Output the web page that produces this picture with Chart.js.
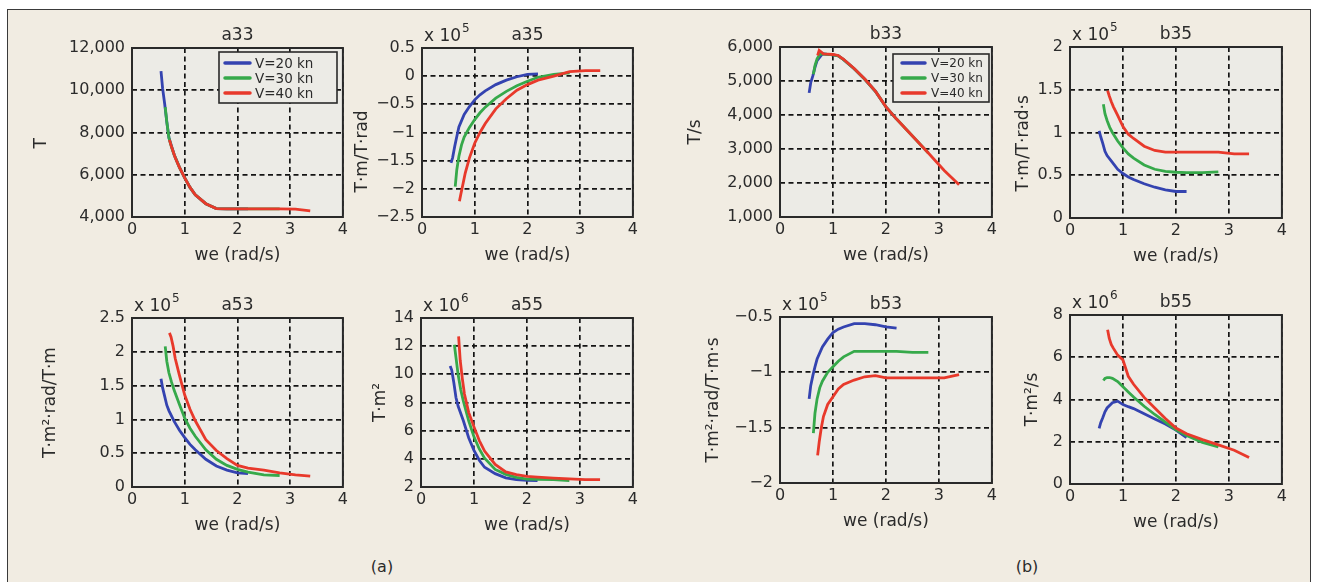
<!DOCTYPE html>
<html>
<head>
<meta charset="utf-8">
<script src="https://cdn.jsdelivr.net/npm/chart.js@4.4.1/dist/chart.umd.min.js"></script>
<style>
  html, body { margin: 0; padding: 0; background: #fff; }
  #fig { position: relative; width: 1317px; height: 582px; overflow: hidden; }
  #frame {
    position: absolute; left: 7px; top: 9px; width: 1304px; height: 600px;
    box-sizing: border-box; border: 1.5px solid #3a3a3a; background: #f1ece2;
  }
  .cv { position: absolute; }
  .tag {
    position: absolute; transform: translate(-50%, -50%);
    font: 16px 'DejaVu Sans', sans-serif; color: #2b2b2b;
  }
</style>
</head>
<body>
<div id="fig">
  <div id="frame"></div>
  <div class="tag" style="left:382px; top:566px">(a)</div>
  <div class="tag" style="left:1027px; top:566px">(b)</div>
</div>
<script>
// ── Encounter frequency (rad/s), one grid per ship speed ────────────
const we20 = [0.55, 0.58, 0.62, 0.66, 0.7, 0.8, 0.9, 1.0, 1.1, 1.2, 1.4, 1.6, 1.8, 2.0, 2.2];
const we30 = [0.63, 0.66, 0.7, 0.75, 0.8, 0.9, 1.0, 1.1, 1.2, 1.4, 1.6, 1.8, 2.0, 2.2, 2.5, 2.8];
const we40 = [0.71, 0.74, 0.78, 0.82, 0.9, 1.0, 1.1, 1.2, 1.4, 1.6, 1.8, 2.0, 2.2, 2.5, 2.8, 3.1, 3.38];
const speedLabels = ['V=20 kn', 'V=30 kn', 'V=40 kn'];
const weTicks = [0, 1, 2, 3, 4];

// ── (a) added mass ──────────────────────────────────────────────────
const a33_20 = [10900, 10100, 9350, 8500, 7750, 6950, 6350, 5850, 5400, 5050, 4630, 4400, 4380, 4380, 4380];
const a33_30 = [9200, 8500, 7750, 7300, 6950, 6350, 5850, 5400, 5050, 4630, 4400, 4380, 4380, 4380, 4380, 4380];
const a33_40 = [7650, 7400, 7100, 6800, 6350, 5850, 5400, 5050, 4630, 4400, 4380, 4380, 4380, 4380, 4380, 4370, 4290];

const a35_20 = [-1.54, -1.45, -1.25, -1.07, -0.9, -0.68, -0.54, -0.42, -0.33, -0.26, -0.15, -0.07, -0.01, 0.03, 0.04];
const a35_30 = [-1.96, -1.66, -1.42, -1.22, -1.08, -0.91, -0.77, -0.65, -0.55, -0.39, -0.27, -0.17, -0.09, -0.02, 0.03, 0.06];
const a35_40 = [-2.22, -2.08, -1.9, -1.72, -1.45, -1.19, -1.0, -0.84, -0.58, -0.4, -0.25, -0.15, -0.07, 0.0, 0.08, 0.1, 0.1];

const a53_20 = [1.6, 1.47, 1.34, 1.21, 1.13, 0.97, 0.84, 0.73, 0.63, 0.55, 0.41, 0.31, 0.25, 0.21, 0.2];
const a53_30 = [2.08, 1.86, 1.69, 1.55, 1.43, 1.22, 1.02, 0.87, 0.75, 0.55, 0.41, 0.32, 0.26, 0.22, 0.18, 0.17];
const a53_40 = [2.28, 2.22, 2.08, 1.9, 1.65, 1.36, 1.15, 0.98, 0.7, 0.54, 0.42, 0.32, 0.28, 0.25, 0.21, 0.18, 0.16];

const a55_20 = [10.6, 10.3, 9.4, 8.35, 7.75, 6.7, 5.5, 4.6, 3.9, 3.4, 2.95, 2.65, 2.53, 2.48, 2.45];
const a55_30 = [12.1, 11.2, 10.0, 8.9, 8.1, 6.7, 5.56, 4.7, 4.05, 3.25, 2.9, 2.68, 2.56, 2.54, 2.52, 2.45];
const a55_40 = [12.7, 11.0, 9.7, 8.6, 7.3, 6.27, 5.3, 4.55, 3.6, 3.07, 2.88, 2.75, 2.7, 2.63, 2.57, 2.53, 2.52];

// ── (b) damping ─────────────────────────────────────────────────────
const b33_20 = [4650, 4950, 5150, 5400, 5600, 5800, 5780, 5770, 5740, 5630, 5360, 5050, 4700, 4240, 3880];
const b33_30 = [5200, 5450, 5650, 5780, 5800, 5780, 5770, 5740, 5630, 5360, 5050, 4700, 4240, 3880, 3380, 2880];
const b33_40 = [5750, 5900, 5850, 5800, 5790, 5780, 5750, 5640, 5370, 5060, 4700, 4240, 3880, 3380, 2880, 2370, 1950];

const b35_20 = [1.02, 0.95, 0.87, 0.78, 0.73, 0.65, 0.57, 0.52, 0.48, 0.45, 0.4, 0.36, 0.33, 0.31, 0.31];
const b35_30 = [1.33, 1.22, 1.14, 1.06, 1.0, 0.9, 0.82, 0.75, 0.7, 0.62, 0.57, 0.545, 0.535, 0.53, 0.53, 0.54];
const b35_40 = [1.49, 1.43, 1.36, 1.3, 1.2, 1.07, 0.98, 0.93, 0.84, 0.79, 0.77, 0.77, 0.77, 0.77, 0.77, 0.75, 0.75];

const b53_20 = [-1.24, -1.12, -1.03, -0.95, -0.88, -0.77, -0.7, -0.64, -0.61, -0.59, -0.56, -0.56, -0.57, -0.59, -0.6];
const b53_30 = [-1.55, -1.37, -1.24, -1.14, -1.08, -1.0, -0.95, -0.9, -0.86, -0.81, -0.81, -0.81, -0.81, -0.81, -0.82, -0.82];
const b53_40 = [-1.75, -1.63, -1.5, -1.4, -1.29, -1.22, -1.15, -1.11, -1.07, -1.04, -1.03, -1.05, -1.05, -1.05, -1.05, -1.05, -1.02];

const b55_20 = [2.63, 2.9, 3.15, 3.42, 3.6, 3.85, 3.92, 3.76, 3.66, 3.57, 3.32, 3.08, 2.84, 2.55, 2.2];
const b55_30 = [4.9, 5.0, 5.04, 5.04, 5.0, 4.85, 4.6, 4.36, 4.12, 3.68, 3.29, 2.93, 2.57, 2.3, 1.97, 1.75];
const b55_40 = [7.3, 6.9, 6.6, 6.42, 6.1, 5.87, 5.1, 4.72, 4.1, 3.6, 3.1, 2.65, 2.38, 2.1, 1.85, 1.6, 1.25];

// ── Y tick labels ───────────────────────────────────────────────────
const a33Ticks = [4000, 6000, 8000, 10000, 12000];
const a35Ticks = [-2.5, -2, -1.5, -1, -0.5, 0, 0.5];
const a53Ticks = [0, 0.5, 1, 1.5, 2, 2.5];
const a55Ticks = [2, 4, 6, 8, 10, 12, 14];
const b33Ticks = [1000, 2000, 3000, 4000, 5000, 6000];
const b35Ticks = [0, 0.5, 1, 1.5, 2];
const b53Ticks = [-2, -1.5, -1, -0.5];
const b55Ticks = [0, 2, 4, 6, 8];

// ── Style ───────────────────────────────────────────────────────────
const FONT = "'DejaVu Sans', sans-serif";
const TEXT = '#2b2b2b';
const PLOT_BG = '#ecebe6';
const COLORS = ['#3443b0', '#36a94a', '#e8392b'];
const PAD_T = 34, PAD_R = 8, X_H = 49;

Chart.defaults.font.family = FONT;
Chart.defaults.color = TEXT;
Chart.defaults.animation = false;

// frame, panel title, x10^n exponent and legend, MATLAB-style
const matlabAxes = {
  id: 'matlabAxes',
  beforeDraw(chart, args, o) {
    const { ctx, chartArea: a } = chart;
    ctx.save();
    ctx.fillStyle = PLOT_BG;
    ctx.fillRect(a.left, a.top, a.right - a.left, a.bottom - a.top);
    ctx.restore();
  },
  afterDraw(chart, args, o) {
    const { ctx, chartArea: a } = chart;
    ctx.save();
    ctx.strokeStyle = '#2a2a2a';
    ctx.lineWidth = 2;
    ctx.strokeRect(a.left, a.top, a.right - a.left, a.bottom - a.top);

    ctx.fillStyle = TEXT;
    ctx.textBaseline = 'middle';
    ctx.textAlign = 'center';
    ctx.font = `17px ${FONT}`;
    ctx.fillText(o.title, (a.left + a.right) / 2, a.top - 12);

    if (o.exponent) {
      ctx.textAlign = 'left';
      ctx.font = `17px ${FONT}`;
      ctx.fillText('x 10', a.left + 2, a.top - 11);
      const w = ctx.measureText('x 10').width;
      ctx.font = `12px ${FONT}`;
      ctx.fillText(o.exponent, a.left + 3 + w, a.top - 19);
    }

    const lg = o.legend;
    if (lg) {
      const x = a.left + lg.dx, y = a.top + lg.dy;
      ctx.fillStyle = PLOT_BG;
      ctx.fillRect(x, y, lg.w, lg.h);
      ctx.lineWidth = 1.6;
      ctx.strokeStyle = '#2a2a2a';
      ctx.strokeRect(x, y, lg.w, lg.h);
      ctx.font = `${lg.size}px ${FONT}`;
      ctx.textAlign = 'left';
      chart.data.datasets.forEach((ds, i) => {
        const ry = y + lg.rows[i];
        ctx.strokeStyle = ds.borderColor;
        ctx.lineWidth = 3.5;
        ctx.lineCap = 'round';
        ctx.beginPath();
        ctx.moveTo(x + lg.line[0], ry);
        ctx.lineTo(x + lg.line[1], ry);
        ctx.stroke();
        ctx.fillStyle = TEXT;
        ctx.fillText(ds.label, x + lg.text, ry + 1);
      });
    }
    ctx.restore();
  },
};

const fmtPlain = v => String(v).replace('-', '\u2212');
const fmtComma = v => v.toLocaleString('en-US');

const panels = [
  { id: 'a33', box: [132, 48, 343, 217], yTitleX: 41, yTitle: 'T    ', ticks: a33Ticks, fmt: fmtComma,
    series: [a33_20, a33_30, a33_40],
    legend: { dx: 87, dy: 4, w: 118, h: 51, size: 13.5, rows: [11, 26, 41], line: [6, 31], text: 36 } },
  { id: 'a35', box: [422, 48, 633, 217], yTitleX: 362, yTitle: 'T\u00b7m/T\u00b7rad       ', ticks: a35Ticks, fmt: fmtPlain,
    series: [a35_20, a35_30, a35_40], exponent: '5' },
  { id: 'a53', box: [132, 318, 343, 487], yTitleX: 50, yTitle: 'T\u00b7m\u00b2\u00b7rad/T\u00b7m', ticks: a53Ticks, fmt: fmtPlain,
    series: [a53_20, a53_30, a53_40], exponent: '5' },
  { id: 'a55', box: [421, 318, 633, 487], yTitleX: 380, yTitle: 'T\u00b7m\u00b2', ticks: a55Ticks, fmt: fmtPlain,
    series: [a55_20, a55_30, a55_40], exponent: '6' },
  { id: 'b33', box: [780, 47, 992, 217], yTitleX: 695, yTitle: 'T/s', ticks: b33Ticks, fmt: fmtComma,
    series: [b33_20, b33_30, b33_40],
    legend: { dx: 113, dy: 7, w: 96, h: 48, size: 12, rows: [9, 24, 39], line: [9, 32], text: 38 } },
  { id: 'b35', box: [1070, 47, 1282, 218], yTitleX: 1023, yTitle: 'T\u00b7m/T\u00b7rad\u00b7s    ', ticks: b35Ticks, fmt: fmtPlain,
    series: [b35_20, b35_30, b35_40], exponent: '5' },
  { id: 'b53', box: [780, 317, 992, 483], yTitleX: 713, yTitle: 'T\u00b7m\u00b2\u00b7rad/T\u00b7m\u00b7s', ticks: b53Ticks, fmt: fmtPlain,
    series: [b53_20, b53_30, b53_40], exponent: '5' },
  { id: 'b55', box: [1070, 315, 1282, 484], yTitleX: 1032, yTitle: 'T\u00b7m\u00b2/s', ticks: b55Ticks, fmt: fmtPlain,
    series: [b55_20, b55_30, b55_40], exponent: '6' },
];

const grids = [we20, we30, we40];
const fig = document.getElementById('fig');

function buildPanel(p) {
  const [l, t, r, b] = p.box;
  const left = Math.round(p.yTitleX - 10.2);
  const yW = l - left;
  const canvas = document.createElement('canvas');
  canvas.className = 'cv';
  canvas.width = yW + (r - l) + PAD_R;
  canvas.height = PAD_T + (b - t) + X_H;
  canvas.style.left = left + 'px';
  canvas.style.top = (t - PAD_T) + 'px';
  fig.appendChild(canvas);

  const datasets = p.series.map((ys, i) => ({
    label: speedLabels[i],
    data: grids[i].map((x, k) => ({ x, y: ys[k] })),
    borderColor: COLORS[i],
    borderWidth: 2.8,
    pointRadius: 0,
    tension: 0,
    order: 3 - i,
  }));

  const gridStyle = { color: '#141414', lineWidth: 1.7, drawTicks: false };

  return new Chart(canvas, {
    type: 'line',
    data: { datasets },
    plugins: [matlabAxes],
    options: {
      responsive: false,
      layout: { padding: { left: 0, top: PAD_T, right: PAD_R, bottom: 0 } },
      plugins: {
        legend: { display: false },
        tooltip: { enabled: false },
        matlabAxes: { title: p.id, exponent: p.exponent, legend: p.legend },
      },
      scales: {
        x: {
          type: 'linear',
          min: weTicks[0],
          max: weTicks[weTicks.length - 1],
          afterBuildTicks: s => { s.ticks = weTicks.map(v => ({ value: v })); },
          afterFit: s => { s.height = X_H; },
          grid: gridStyle,
          border: { display: false, dash: [5, 3.5] },
          ticks: { padding: 3, maxRotation: 0, autoSkip: false, font: { size: 16 }, color: TEXT },
          title: { display: true, text: 'we (rad/s)', font: { size: 17 }, color: TEXT, padding: 0 },
        },
        y: {
          type: 'linear',
          min: p.ticks[0],
          max: p.ticks[p.ticks.length - 1],
          afterBuildTicks: s => { s.ticks = p.ticks.map(v => ({ value: v })); },
          afterFit: s => { s.width = yW; },
          grid: gridStyle,
          border: { display: false, dash: [5, 3.5] },
          ticks: { padding: 7, autoSkip: false, font: { size: 16 }, color: TEXT, callback: v => p.fmt(v) },
          title: { display: true, text: p.yTitle, font: { size: 17 }, color: TEXT, padding: 0 },
        },
      },
    },
  });
}

panels.forEach(buildPanel);
</script>
</body>
</html>
